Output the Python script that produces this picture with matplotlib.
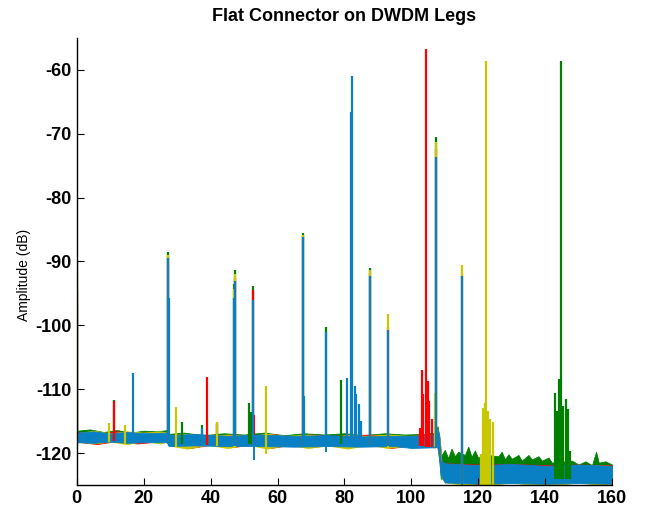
import numpy as np
import matplotlib.pyplot as plt

plt.rcParams['font.family'] = ['Liberation Sans', 'DejaVu Sans']
plt.rcParams['axes.unicode_minus'] = False

# series colours (draw order: green, red, yellow, blue on top)
colors = {'green': '#008000', 'red': '#FF0000', 'yellow': '#C8C800', 'blue': '#0A80C4'}
order = ['green', 'red', 'yellow', 'blue']

# noise floor envelopes: x knots, upper and lower edge (dB)
band_x = {
    'green':  [0, 4, 8, 12, 16, 20, 24, 27, 27.5, 32, 38, 44, 50, 56, 62, 68, 74, 80, 86, 92, 98, 104, 107,
               107.8, 108.4, 108.8, 110, 111, 112, 113, 114, 116, 117, 118, 119, 120,
               121, 126, 127, 128, 129, 130, 132, 133, 135, 136, 138, 139, 141, 142, 148, 150, 152, 154,
               155.2, 156, 158, 160],
    'red':    [0, 6, 12, 18, 24, 27, 27.5, 34, 40, 46, 52, 58, 64, 70, 76, 82, 88, 94, 100, 107, 107.8,
               108.5, 109, 110, 120, 130, 140, 150, 160],
    'yellow': [0, 5, 10, 15, 20, 25, 27, 27.5, 33, 39, 45, 51, 57, 63, 69, 75, 81, 87, 93, 99, 107, 107.8,
               108.5, 109, 110, 120, 130, 140, 150, 160],
    'blue':   [0, 5, 10, 15, 20, 27, 27.5, 35, 45, 55, 65, 75, 85, 95, 100, 107, 107.8, 108.3, 108.8, 110,
               120, 130, 140, 150, 160],
}
band_hi = {
    'green':  [-116.5, -116.3, -116.7, -116.4, -116.8, -116.5, -116.6, -116.4, -117.0, -116.8, -117.2, -116.9,
               -117.1, -116.8, -117.2, -116.9, -117.1, -116.9, -117.2, -116.9, -117.1, -117.0, -116.8,
               -115.8, -117.5, -120.5, -119.5, -120.8, -119.3, -120.5,
               -119.8, -120.3, -119.0, -120.6, -119.6, -120.8, -120.2, -120.5, -119.8, -121.0, -120.2, -120.9,
               -120.3, -121.2, -120.3, -121.0, -120.5, -121.2, -120.7, -121.5, -121.2, -121.8, -121.3, -121.9,
               -119.8, -121.5, -121.3, -121.8],
    'red':    [-116.7, -117.0, -116.6, -116.9, -116.7, -116.8, -117.2, -117.0, -117.4, -117.1, -117.3,
               -117.0, -117.4, -117.1, -117.3, -117.2, -117.1, -117.4, -117.3, -117.1, -116.3, -118.0,
               -121.3, -121.6, -121.8, -121.7, -121.9, -121.8, -121.9],
    'yellow': [-116.9, -116.5, -116.9, -116.6, -116.8, -116.6, -116.8, -117.2, -117.0, -117.3, -117.1,
               -117.3, -117.0, -117.3, -117.1, -117.4, -117.2, -117.3, -117.1, -117.3, -117.2, -116.2,
               -118.0, -121.5, -121.8, -122.0, -121.9, -122.1, -121.9, -122.0],
    'blue':   [-116.8, -116.6, -116.9, -116.7, -116.9, -116.8, -117.2, -117.0, -117.3, -117.1, -117.3,
               -117.2, -117.4, -117.3, -117.3, -117.1, -116.2, -117.2, -121.2, -121.6, -121.9, -121.7,
               -122.0, -121.8, -122.0],
}
band_lo = {
    'green':  [-118.0] * 8 + [-118.6] * 15 + [-119.0, -121.5] + [-124.0] * 33,
    'red':    [-118.2, -118.6, -118.1, -118.5, -118.2, -118.3, -118.7, -119.2, -118.7, -119.1, -118.7,
               -119.2, -118.7, -119.1, -118.7, -119.0, -118.7, -119.2, -118.8, -119.1, -119.0, -120.8,
               -123.5, -124.3, -124.5, -124.4, -124.6, -124.4, -124.5],
    'yellow': [-118.1, -118.5, -118.2, -118.6, -118.1, -118.5, -118.2, -118.8, -119.3, -118.7, -119.2,
               -118.7, -119.3, -118.7, -119.2, -118.8, -119.3, -118.7, -119.2, -118.8, -119.0, -119.0,
               -121.0, -123.8, -124.6, -125.2, -124.6, -125.2, -124.6, -125.2],
    'blue':   [-118.3, -118.4, -118.2, -118.4, -118.3, -118.3, -118.9, -118.8, -118.9, -118.9, -119.0,
               -118.9, -119.0, -118.9, -119.2, -119.1, -119.0, -120.5, -123.5, -124.6, -124.8, -124.7,
               -124.8, -124.7, -124.8],
}

# upward spikes: position and peak (dB)
spike_x = {
    'green':  [0.05, 11.0, 27.2, 31.6, 37.5, 42.0, 46.9, 47.4, 51.6, 52.1, 52.8, 67.5, 74.6, 79.1, 87.5,
               107.5, 143.0, 143.6, 144.2, 144.6, 145.3, 146.2, 146.9, 147.3],
    'red':    [0.05, 11.0, 27.2, 39.0, 42.0, 47.4, 52.8, 53.1, 67.5, 87.5, 93.0, 102.7, 103.3, 103.6, 104.3,
               105.1, 105.4, 106.3, 107.5, 115.2],
    'yellow': [0.05, 9.6, 14.4, 27.2, 29.6, 42.0, 46.9, 47.4, 56.7, 67.5, 87.5, 93.0, 107.2, 107.5, 115.2,
               120.9, 121.5, 122.1, 122.4, 123.0, 123.6, 124.5],
    'blue':   [0.05, 16.8, 27.2, 27.5, 37.5, 46.9, 47.4, 52.8, 67.5, 67.8, 74.6, 80.9, 82.1, 82.4, 83.3, 83.6,
               84.5, 85.1, 87.5, 93.0, 107.5, 115.2],
}
spike_top = {
    'green':  [-90.0, -111.7, -88.5, -115.1, -115.6, -115.3, -93.5, -91.4, -112.2, -113.5, -93.8, -85.6,
               -100.2, -108.5, -91.0, -70.5, -110.6, -113.4, -108.4, -58.6, -112.6, -111.5, -113.1, -119.7],
    'red':    [-95.0, -111.9, -89.2, -108.1, -115.5, -92.6, -94.5, -114.0, -86.0, -91.8, -100.3, -116.0,
               -107.0, -110.8, -56.7, -108.7, -111.8, -114.7, -72.4, -91.9],
    'yellow': [-91.7, -115.3, -115.6, -89.0, -112.8, -115.2, -94.3, -92.0, -109.5, -85.8, -91.3, -98.3,
               -110.6, -71.3, -90.5, -120.2, -112.9, -112.2, -58.6, -113.4, -114.7, -115.1],
    'blue':   [-96.6, -107.4, -89.5, -95.8, -116.0, -95.7, -93.0, -96.0, -86.2, -111.0, -101.0, -108.2,
               -66.6, -60.9, -109.5, -110.8, -112.3, -115.0, -92.3, -100.8, -73.7, -92.3],
}

# downward dips below the floor
dip_x = {'yellow': [56.7], 'blue': [52.9, 74.6, 115.2]}
dip_bot = {'yellow': [-120.2], 'blue': [-121.1, -119.8, -125.5]}

fig = plt.figure(figsize=(6.45, 5.19), dpi=100)
ax = fig.add_axes([0.119, 0.0655, 0.830, 0.8615])

for name in order:
    c = colors[name]
    ax.fill_between(band_x[name], band_lo[name], band_hi[name], color=c, lw=0.6, edgecolor=c)
    sx = np.array(spike_x[name])
    base = np.interp(sx, band_x[name], band_lo[name])
    ax.vlines(sx, base, spike_top[name], color=c, lw=1.6)
    if name in dip_x:
        dx = np.array(dip_x[name])
        ax.vlines(dx, dip_bot[name], np.interp(dx, band_x[name], band_hi[name]), color=c, lw=1.4)

ax.set_xlim(0, 160)
ax.set_ylim(-125, -55)
ax.set_xticks(np.arange(0, 161, 20))
ax.set_yticks(np.arange(-120, -59, 10))
ax.tick_params(direction='in', length=5, width=0.8, labelsize=13)
for lab in ax.get_xticklabels() + ax.get_yticklabels():
    lab.set_fontweight('bold')
ax.spines['top'].set_visible(False)
ax.spines['right'].set_visible(False)
ax.spines['left'].set_linewidth(1.0)
ax.spines['bottom'].set_linewidth(1.0)
ax.set_ylabel('Amplitude (dB)', fontsize=10)
ax.yaxis.set_label_coords(-0.085, 0.47)
ax.set_title('Flat Connector on DWDM Legs', fontsize=13, fontweight='bold', pad=12)

fig.savefig('out.png', dpi=100)
